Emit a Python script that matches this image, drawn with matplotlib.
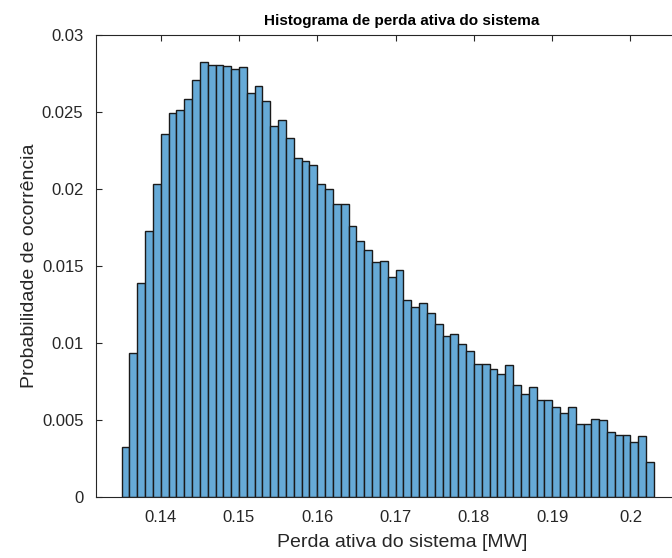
import numpy as np
import matplotlib
matplotlib.use("Agg")
import matplotlib.pyplot as plt
from matplotlib.ticker import FuncFormatter

# histogram data
bin_start = 0.135
bin_width = 0.001
probabilidade = [
    0.00323, 0.00937, 0.01392, 0.01727, 0.02035, 0.02357, 0.02491, 0.02515,
    0.02587, 0.02710, 0.02823, 0.02805, 0.02805, 0.02797, 0.02779, 0.02794,
    0.02621, 0.02671, 0.02571, 0.02410, 0.02446, 0.02331, 0.02200, 0.02182,
    0.02156, 0.02032, 0.01998, 0.01903, 0.01903, 0.01762, 0.01664, 0.01602,
    0.01524, 0.01532, 0.01429, 0.01472, 0.01279, 0.01236, 0.01262, 0.01193,
    0.01121, 0.01043, 0.01058, 0.00991, 0.00946, 0.00866, 0.00866, 0.00831,
    0.00797, 0.00857, 0.00727, 0.00667, 0.00716, 0.00630, 0.00630, 0.00587,
    0.00543, 0.00587, 0.00472, 0.00472, 0.00509, 0.00498, 0.00420, 0.00403,
    0.00403, 0.00357, 0.00396, 0.00227,
]
x_ticks = [0.14, 0.15, 0.16, 0.17, 0.18, 0.19, 0.2]
y_ticks = [0, 0.005, 0.01, 0.015, 0.02, 0.025, 0.03]

plt.rcParams['font.family'] = ['Liberation Sans', 'DejaVu Sans']

fig = plt.figure(figsize=(6.72, 5.58), dpi=100)
W, H = 672, 558
ax = fig.add_axes([96 / W, (H - 497) / H, (708 - 96) / W, 462 / H])

edges = bin_start + bin_width * np.arange(len(probabilidade) + 1)
ax.hist(edges[:-1], bins=edges, weights=probabilidade,
        color=(0.4, 0.668, 0.845), edgecolor='#1a1a1a', linewidth=1.0)

px = 0.01 / 78.3
ax.set_xlim(0.14 - 64.7 * px, 0.2 + 77.5 * px)
ax.set_ylim(0, 0.03)
ax.set_xticks(x_ticks)
ax.set_yticks(y_ticks)
ax.xaxis.set_major_formatter(FuncFormatter(lambda v, p: f"{v:g}"))
ax.yaxis.set_major_formatter(FuncFormatter(lambda v, p: f"{v:g}"))

ax.tick_params(direction='in', length=4, width=0.8, colors='#262626',
               labelsize=12, top=True, right=True, pad=9)
for s in ax.spines.values():
    s.set_color('#262626')
    s.set_linewidth(0.8)

ax.set_title('Histograma de perda ativa do sistema', fontsize=11,
             fontweight='bold', color='black', pad=7)
ax.set_xlabel('Perda ativa do sistema [MW]', fontsize=14, color='#262626',
              labelpad=7)
ax.set_ylabel('Probabilidade de ocorrência', fontsize=14, color='#262626',
              labelpad=2.5)

fig.savefig('out.png', dpi=100)
